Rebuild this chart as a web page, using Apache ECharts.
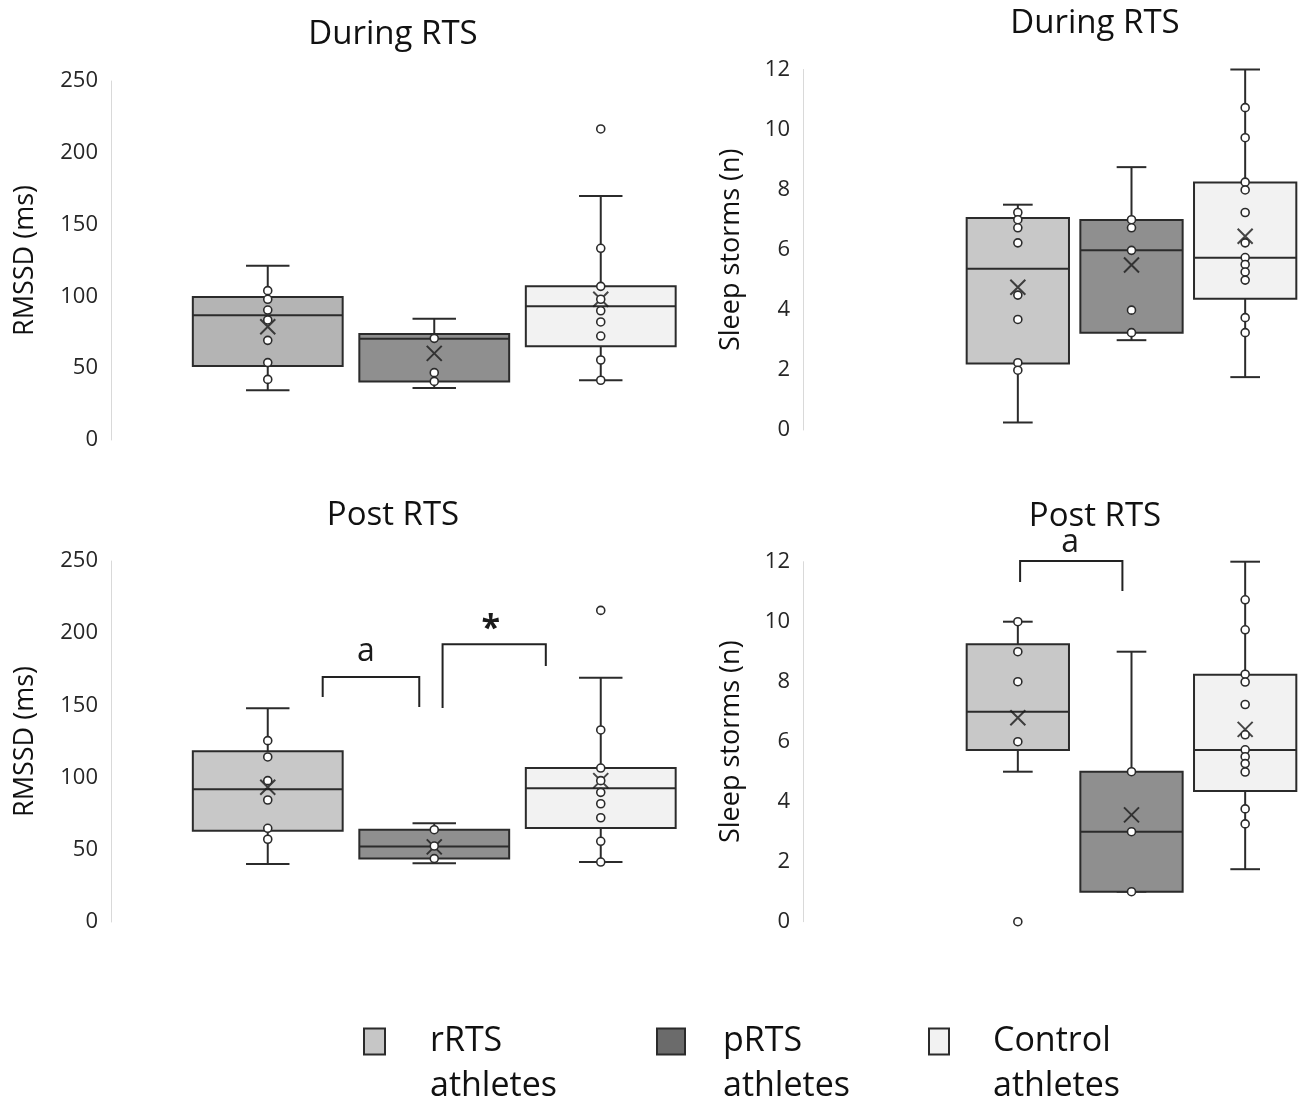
<!DOCTYPE html>
<html>
<head>
    <meta charset="utf-8">
    <title>RMSSD and sleep storms</title>
    <style>
        html, body { margin: 0; padding: 0; background: #fff; }
        #main { width: 1306px; height: 1102px; }
    </style>
</head>
<body>
    <div id="main"></div>
    <script src="https://cdn.jsdelivr.net/npm/echarts/dist/echarts.min.js"></script>
    <script type="text/javascript">

        const GROUPS = ['rRTS athletes', 'pRTS athletes', 'Control athletes'];
        const CATEGORIES = ['rRTS', 'pRTS', 'Control'];

        // box stats per group: [min, q1, median, q3, max]
        const RMSSD_DURING_BOX = [
            [34.6, 51.5, 86.8, 99.6, 121.4],
            [36.2, 40.8, 70.5, 73.8, 84.5],
            [41.6, 65.2, 93.1, 107, 169.9]
        ];
        const RMSSD_DURING_MEAN = [78.9, 60.3, 98];
        const RMSSD_DURING_POINTS = [
            [104, 98, 90.5, 83.6, 69.4, 53.9, 42.2],
            [70.8, 46.9, 40.8],
            [216.6, 133.5, 107, 98, 90, 82.2, 72.4, 55.7, 41.6]
        ];

        const STORMS_DURING_BOX = [
            [0.25, 2.21, 5.37, 7.06, 7.5],
            [2.99, 3.24, 5.98, 6.99, 8.75],
            [1.76, 4.37, 5.73, 8.24, 12]
        ];
        const STORMS_DURING_MEAN = [4.75, 5.49, 6.45];
        const STORMS_DURING_POINTS = [
            [7.24, 7.0, 6.73, 6.23, 4.49, 3.68, 2.24, 1.99],
            [7.0, 6.73, 5.98, 3.99, 3.24],
            [10.73, 9.73, 8.25, 7.99, 7.24, 6.23, 5.74, 5.51, 5.26, 4.99, 3.74, 3.24]
        ];

        const RMSSD_POST_BOX = [
            [40.2, 63.2, 91.9, 118.2, 148],
            [40.6, 43.9, 52.2, 63.9, 68.3],
            [41.5, 65.1, 92.6, 106.6, 169.2]
        ];
        const RMSSD_POST_MEAN = [93.3, 52, 97.9];
        const RMSSD_POST_POINTS = [
            [125.6, 114.3, 97.9, 84.5, 64.9, 57.3],
            [63.9, 52.6, 43.9],
            [215.8, 133, 106.6, 97.9, 89.8, 81.9, 72.2, 55.9, 41.5]
        ];

        const STORMS_POST_BOX = [
            [5, 5.72, 7, 9.25, 10],
            [1, 1, 3, 5, 9],
            [1.75, 4.36, 5.72, 8.23, 12]
        ];
        const STORMS_POST_MEAN = [6.8, 3.56, 6.41];
        const STORMS_POST_POINTS = [
            [10, 9, 8, 6, 0],
            [5, 3, 1],
            [10.73, 9.73, 8.25, 7.99, 7.24, 6.23, 5.73, 5.5, 5.27, 4.99, 3.76, 3.26]
        ];

        const FONT = 'Open Sans';
        const INK = '#2b2b2b';

        // significance brackets, x in category units, y in axis units
        const POST_RMSSD_NOTES = [
            {x0: 0.33, x1: 0.91, top: 169.7, legL: 155.8, legR: 148.9, label: 'a', tx: 0.59, ty: 187, bold: false},
            {x0: 1.05, x1: 1.67, top: 192.3, legL: 148.2, legR: 177.3, label: '*', tx: 1.34, ty: 203, bold: true}
        ];
        const POST_STORMS_NOTES = [
            {x0: 0.02, x1: 0.92, top: 12.02, legL: 11.32, legR: 11.02, label: 'a', tx: 0.46, ty: 12.62, bold: false}
        ];

        const LEFT_GRID = {left: 184.5, width: 499.5};
        const RIGHT_GRID = {left: 961, width: 341};

        const PANELS = [
            {
                title: 'During RTS', titleX: 388, titleY: 13,
                yName: 'RMSSD (ms)', yMax: 250, yStep: 50,
                box: RMSSD_DURING_BOX, mean: RMSSD_DURING_MEAN, points: RMSSD_DURING_POINTS,
                colors: ['#b4b4b4', '#8f8f8f', '#f2f2f2'],
                grid: Object.assign({top: 81, height: 359}, LEFT_GRID), yOffset: 73.5, nameGap: 72
            },
            {
                title: 'During RTS', titleX: 1090, titleY: 2,
                yName: 'Sleep storms (n)', yMax: 12, yStep: 2,
                box: STORMS_DURING_BOX, mean: STORMS_DURING_MEAN, points: STORMS_DURING_POINTS,
                colors: ['#c8c8c8', '#8f8f8f', '#f2f2f2'],
                grid: Object.assign({top: 69.5, height: 360.5}, RIGHT_GRID), yOffset: 158, nameGap: 58
            },
            {
                title: 'Post RTS', titleX: 388, titleY: 494,
                yName: 'RMSSD (ms)', yMax: 250, yStep: 50,
                box: RMSSD_POST_BOX, mean: RMSSD_POST_MEAN, points: RMSSD_POST_POINTS,
                colors: ['#c8c8c8', '#8f8f8f', '#f2f2f2'],
                grid: Object.assign({top: 561, height: 361}, LEFT_GRID), yOffset: 73.5, nameGap: 72,
                notes: POST_RMSSD_NOTES
            },
            {
                title: 'Post RTS', titleX: 1090, titleY: 495,
                yName: 'Sleep storms (n)', yMax: 12, yStep: 2,
                box: STORMS_POST_BOX, mean: STORMS_POST_MEAN, points: STORMS_POST_POINTS,
                colors: ['#c8c8c8', '#8f8f8f', '#f2f2f2'],
                grid: Object.assign({top: 561.7, height: 360}, RIGHT_GRID), yOffset: 158, nameGap: 58,
                notes: POST_STORMS_NOTES
            }
        ];

        const LEGEND_ITEMS = [
            {left: 363, width: 21, color: '#c6c6c6', pad: 40},
            {left: 656, width: 28, color: '#6b6b6b', pad: 33},
            {left: 928, width: 20, color: '#f2f2f2', pad: 39}
        ];

        function renderBox(params, api) {
            const x = api.value(0);
            const lo = api.coord([x, api.value(1)]);
            const q1 = api.coord([x, api.value(2)]);
            const md = api.coord([x, api.value(3)]);
            const q3 = api.coord([x, api.value(4)]);
            const hi = api.coord([x, api.value(5)]);
            const band = api.size([1, 0])[0];
            const bw = band * 0.9;
            const cw = bw * 0.29;
            const cx = md[0];
            const line = {stroke: INK, lineWidth: 2};
            return {
                type: 'group',
                children: [
                    {type: 'line', shape: {x1: cx, y1: hi[1], x2: cx, y2: q3[1]}, style: line},
                    {type: 'line', shape: {x1: cx - cw / 2, y1: hi[1], x2: cx + cw / 2, y2: hi[1]}, style: line},
                    {type: 'line', shape: {x1: cx, y1: lo[1], x2: cx, y2: q1[1]}, style: line},
                    {type: 'line', shape: {x1: cx - cw / 2, y1: lo[1], x2: cx + cw / 2, y2: lo[1]}, style: line},
                    {
                        type: 'rect',
                        shape: {x: cx - bw / 2, y: q3[1], width: bw, height: q1[1] - q3[1]},
                        style: {fill: api.visual('color'), stroke: INK, lineWidth: 2}
                    },
                    {type: 'line', shape: {x1: cx - bw / 2, y1: md[1], x2: cx + bw / 2, y2: md[1]}, style: line}
                ]
            };
        }

        function noteRenderer(notes) {
            return function (params, api) {
                const c0 = api.coord([0, 0])[0];
                const band = api.size([1, 0])[0];
                const px = v => c0 + v * band;
                const py = v => api.coord([0, v])[1];
                const children = [];
                for (let n of notes) {
                    children.push({
                        type: 'polyline',
                        shape: {points: [[px(n.x0), py(n.legL)], [px(n.x0), py(n.top)], [px(n.x1), py(n.top)], [px(n.x1), py(n.legR)]]},
                        style: {stroke: '#222', lineWidth: 2, fill: null}
                    });
                    children.push({
                        type: 'text',
                        x: px(n.tx),
                        y: py(n.ty),
                        style: {
                            text: n.label, align: 'center', verticalAlign: 'middle',
                            fontSize: n.bold ? 34 : 32, fontWeight: n.bold ? 'bold' : 'normal',
                            fontFamily: FONT, fill: '#1a1a1a'
                        }
                    });
                }
                return {type: 'group', children: children};
            };
        }

        let grids = [];
        let xAxes = [];
        let yAxes = [];
        let titles = [];
        let series = [];

        PANELS.forEach(function (p, i) {
            grids.push(Object.assign({containLabel: false, outerBoundsMode: 'none'}, p.grid));
            titles.push({
                text: p.title, left: p.titleX, top: p.titleY, textAlign: 'center',
                textStyle: {fontFamily: FONT, fontSize: 33, fontWeight: 'normal', color: '#111'}
            });
            xAxes.push({type: 'category', gridIndex: i, data: CATEGORIES, show: false});
            yAxes.push({
                type: 'value', gridIndex: i, min: 0, max: p.yMax, interval: p.yStep,
                offset: p.yOffset,
                name: p.yName, nameLocation: 'middle', nameGap: p.nameGap,
                nameTextStyle: {fontFamily: FONT, fontSize: 27, color: '#111'},
                axisLine: {show: true, lineStyle: {color: '#d9d9d9', width: 1}},
                axisTick: {show: false},
                splitLine: {show: false},
                axisLabel: {fontFamily: FONT, fontSize: 22, color: '#262626', margin: 13}
            });
            GROUPS.forEach(function (g, k) {
                series.push({
                    type: 'custom', name: g, xAxisIndex: i, yAxisIndex: i,
                    itemStyle: {color: p.colors[k]},
                    renderItem: renderBox,
                    encode: {x: 0, y: [1, 2, 3, 4, 5]},
                    data: [[k].concat(p.box[k])],
                    z: 2, silent: true
                });
            });
            series.push({
                type: 'scatter', xAxisIndex: i, yAxisIndex: i,
                symbol: 'path://M0,0L10,10M10,0L0,10', symbolSize: 15,
                itemStyle: {color: 'transparent', borderColor: '#1a1a1a', borderWidth: 2},
                data: p.mean.map((v, k) => [k, v]),
                z: 3, silent: true
            });
            let pts = [];
            p.points.forEach(function (vals, k) {
                for (let v of vals) {
                    pts.push([k, v]);
                }
            });
            series.push({
                type: 'scatter', xAxisIndex: i, yAxisIndex: i,
                symbol: 'circle', symbolSize: 8,
                itemStyle: {color: '#fff', borderColor: INK, borderWidth: 1.6, opacity: 1},
                data: pts,
                z: 4, silent: true
            });
            if (p.notes) {
                series.push({
                    type: 'custom', xAxisIndex: i, yAxisIndex: i,
                    renderItem: noteRenderer(p.notes),
                    encode: {x: 0, y: 1},
                    data: [[0, 0]],
                    clip: false, z: 5, silent: true
                });
            }
        });

        // an empty first line keeps the icon level with the first text line
        let legends = LEGEND_ITEMS.map(function (it, k) {
            return {
                left: it.left, top: 974, padding: 0,
                orient: 'horizontal', selectedMode: false,
                icon: 'rect', itemWidth: it.width, itemHeight: 26,
                data: [{name: GROUPS[k], itemStyle: {color: it.color, borderColor: INK, borderWidth: 2}}],
                formatter: name => '\n' + name.replace(' ', '\n'),
                textStyle: {
                    fontFamily: FONT, fontSize: 34, lineHeight: 45, color: '#111',
                    padding: [0, 0, 0, it.pad]
                }
            };
        });

        let myChart = echarts.init(document.getElementById('main'), null, {renderer: 'canvas'});
        myChart.setOption({
            animation: false,
            backgroundColor: '#fff',
            title: titles,
            legend: legends,
            grid: grids,
            xAxis: xAxes,
            yAxis: yAxes,
            series: series
        });

    </script>
</body>
</html>
